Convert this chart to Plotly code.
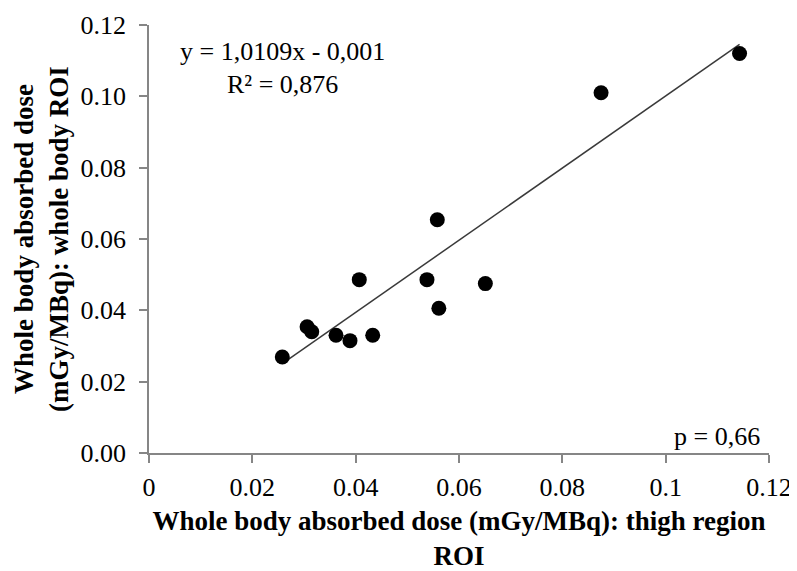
import plotly.graph_objects as go

# Data
thigh_roi = [0.0258, 0.0306, 0.0315, 0.0362, 0.0389, 0.0433, 0.0407, 0.0538,
             0.0561, 0.0651, 0.0558, 0.0875, 0.1143]
whole_body_roi = [0.0269, 0.0354, 0.0340, 0.0330, 0.0315, 0.0330, 0.0486, 0.0486,
                  0.0406, 0.0475, 0.0654, 0.1010, 0.1120]

slope = 1.0109
intercept = -0.001
r_squared_text = "R² = 0,876"
equation_text = "y = 1,0109x - 0,001"
p_text = "p = 0,66"

x_ticks = [0, 0.02, 0.04, 0.06, 0.08, 0.1, 0.12]
x_tick_labels = ["0", "0.02", "0.04", "0.06", "0.08", "0.1", "0.12"]
y_ticks = [0, 0.02, 0.04, 0.06, 0.08, 0.10, 0.12]
y_tick_labels = ["0.00", "0.02", "0.04", "0.06", "0.08", "0.10", "0.12"]

x_min, x_max = min(thigh_roi), max(thigh_roi)
trend_x = [x_min, x_max]
trend_y = [slope * v + intercept for v in trend_x]

serif = "Liberation Serif, Times New Roman, serif"
FS = 26
FT = 27

fig = go.Figure()
fig.add_trace(go.Scatter(x=trend_x, y=trend_y, mode="lines",
                         line=dict(color="#3a3a3a", width=1.5),
                         hoverinfo="skip", showlegend=False))
fig.add_trace(go.Scatter(x=thigh_roi, y=whole_body_roi, mode="markers",
                         marker=dict(color="#000000", size=15),
                         showlegend=False))

axis_common = dict(showgrid=False, zeroline=False, showline=True,
                   linecolor="#868686", linewidth=1.5, automargin=False,
                   ticks="outside", ticklen=8, tickcolor="#868686", tickwidth=1.5,
                   tickfont=dict(family=serif, size=FS, color="#000000"))

fig.update_xaxes(range=[0, 0.12], tickvals=x_ticks, ticktext=x_tick_labels,
                 ticklabelstandoff=2,
                 title=dict(text="<b>Whole body absorbed dose (mGy/MBq): thigh region<br>ROI</b>",
                            font=dict(family=serif, size=FT, color="#000000"),
                            standoff=19),
                 **axis_common)
fig.update_yaxes(range=[0, 0.12], tickvals=y_ticks, ticktext=y_tick_labels,
                 ticklabelstandoff=8,
                 title=dict(text="<b>Whole body absorbed dose<br>(mGy/MBq): whole body ROI</b>",
                            font=dict(family=serif, size=FT, color="#000000"),
                            standoff=4),
                 **axis_common)

fig.add_annotation(x=0.0258, y=0.1127, xref="x", yref="y", text=equation_text,
                   showarrow=False, xanchor="center", yanchor="middle",
                   font=dict(family=serif, size=FS, color="#000000"))
fig.add_annotation(x=0.0258, y=0.1034, xref="x", yref="y", text=r_squared_text,
                   showarrow=False, xanchor="center", yanchor="middle",
                   font=dict(family=serif, size=FS, color="#000000"))
fig.add_annotation(x=0.1187, y=0.0046, xref="x", yref="y", text=p_text,
                   showarrow=False, xanchor="right", yanchor="middle",
                   font=dict(family=serif, size=FS, color="#000000"))

# The page body has an 8px default margin, so the figure is sized to fit
fig.update_layout(width=789, height=563,
                  margin=dict(l=141, r=28, t=17, b=118),
                  paper_bgcolor="#ffffff", plot_bgcolor="#ffffff")

fig.write_html("out.html")
